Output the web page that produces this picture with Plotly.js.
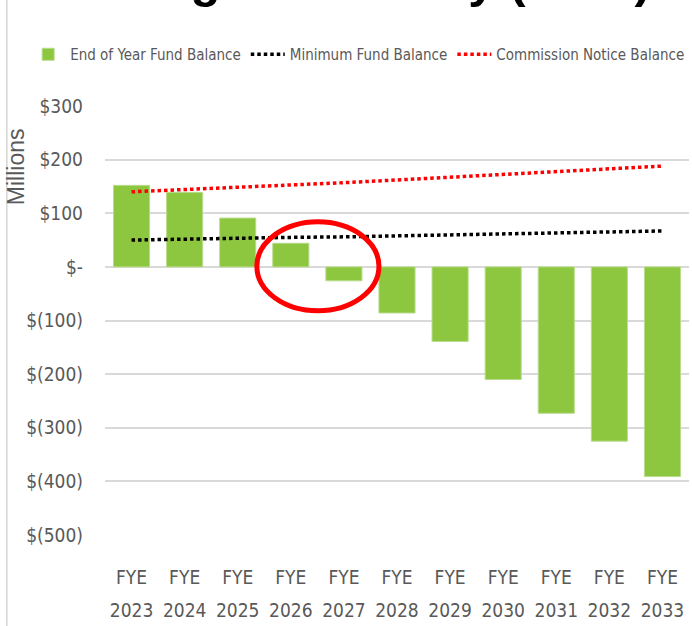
<!DOCTYPE html>
<html>
<head>
<meta charset="utf-8">
<script src="https://cdn.plot.ly/plotly-3.0.1.min.js"></script>
<style>
html,body{margin:0;padding:0;background:#fff;}
#chart{width:692px;height:626px;}
.xtick text, .x2tick text, .ytick text, .legendtext { font-stretch: condensed !important; }
</style>
</head>
<body>
<div id="chart"></div>
<script>
// ---- data ----
const categories = ["2023","2024","2025","2026","2027","2028","2029","2030","2031","2032","2033"];
const fyeLabels = ["FYE","FYE","FYE","FYE","FYE","FYE","FYE","FYE","FYE","FYE","FYE"];
const yearLabels = ["2023","2024","2025","2026","2027","2028","2029","2030","2031","2032","2033"];
const fundBalance = [152, 139, 91, 44, -26, -86, -139, -210, -273, -325, -391];
const minimumBalance = [50, 52, 53, 55, 56, 58, 60, 62, 63, 65, 67];
const commissionBalance = [140, 144, 148, 152, 157, 162, 167, 172, 177, 182, 188];
const yTickVals = [300, 200, 100, 0, -100, -200, -300, -400, -500];
const yTickText = ["$300", "$200", "$100", "$-", "$(100)", "$(200)", "$(300)", "$(400)", "$(500)"];

const NARROW = "DejaVu Sans, sans-serif";
const GREY = "#595959";

const traces = [
  {
    type: "bar", name: "End of Year Fund Balance", x: categories, y: fundBalance,
    marker: {color: "#8DC63F", line: {color: "#b9dc8c", width: 1}},
    width: 0.68, hoverinfo: "x+y"
  },
  {
    type: "scatter", mode: "lines", name: "Minimum Fund Balance", x: categories, y: minimumBalance,
    line: {color: "#000000", width: 3.5, dash: "3.5px,3px"}
  },
  {
    type: "scatter", mode: "lines", name: "Commission Notice Balance", x: categories, y: commissionBalance,
    line: {color: "#ff0000", width: 3.5, dash: "3.5px,3px"}
  },
  {
    type: "scatter", mode: "markers", x: categories, y: fundBalance, xaxis: "x2",
    marker: {opacity: 0}, showlegend: false, hoverinfo: "skip"
  }
];

const layout = {
  width: 692, height: 626,
  margin: {l: 105, r: 3, t: 106, b: 91, autoexpand: false},
  paper_bgcolor: "#ffffff", plot_bgcolor: "#ffffff",
  title: {
    text: "Funding Sufficiency (2023)",
    font: {family: "Liberation Sans, Arial, sans-serif", size: 49, color: "#000000", weight: "bold"},
    xref: "container", x: 0.49, xanchor: "center",
    yref: "container", y: 1, yanchor: "bottom", pad: {b: 3}
  },
  showlegend: true,
  legend: {
    orientation: "h", x: -0.135, xanchor: "left", y: 1.12, yanchor: "middle",
    font: {family: NARROW, size: 15, color: GREY},
    itemwidth: 34, traceorder: "normal", bgcolor: "rgba(0,0,0,0)"
  },
  bargap: 0.32,
  xaxis: {
    type: "category", range: [-0.5, 10.5], tickmode: "array", tickvals: categories, ticktext: fyeLabels,
    showgrid: false, zeroline: false, showline: false, ticks: "", tickangle: 0,
    tickfont: {family: NARROW, size: 19, color: GREY},
    ticklabelstandoff: 29, fixedrange: true
  },
  xaxis2: {
    type: "category", overlaying: "x", side: "bottom", anchor: "y", range: [-0.5, 10.5],
    tickmode: "array", tickvals: categories, ticktext: yearLabels,
    showgrid: false, zeroline: false, showline: false, ticks: "", tickangle: 0,
    tickfont: {family: NARROW, size: 19, color: GREY},
    ticklabelstandoff: 62, fixedrange: true
  },
  yaxis: {
    range: [-500, 300], tickmode: "array", tickvals: yTickVals, ticktext: yTickText,
    showgrid: true, gridcolor: "#d9d9d9", gridwidth: 2,
    zeroline: false, showline: false, ticks: "",
    tickfont: {family: NARROW, size: 19, color: GREY},
    ticklabelstandoff: 21, fixedrange: true
  },
  annotations: [
    {
      text: "Millions", xref: "paper", yref: "paper", x: -0.152, y: 0.858,
      xanchor: "center", yanchor: "middle", textangle: -90, showarrow: false,
      font: {family: "Liberation Sans, Arial, sans-serif", size: 23, color: GREY}
    }
  ],
  shapes: [
    {
      type: "circle", xref: "x", yref: "y", x0: 2.36, x1: 4.66, y0: -82, y1: 84,
      line: {color: "#ff0000", width: 5}, fillcolor: "rgba(0,0,0,0)"
    },
    {
      type: "line", xref: "paper", yref: "paper", x0: -0.168, x1: -0.168, y0: -0.25, y1: 1.3,
      line: {color: "#bfbfbf", width: 1}
    }
  ]
};

Plotly.newPlot("chart", traces, layout, {displayModeBar: false, staticPlot: true});
</script>
</body>
</html>
